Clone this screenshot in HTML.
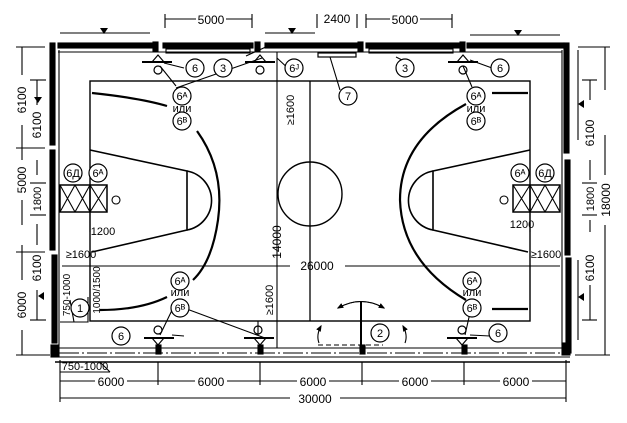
<!DOCTYPE html>
<html><head><meta charset="utf-8"><style>
html,body{margin:0;padding:0;background:#fff;}
svg{display:block;}
text{font-family:"Liberation Sans",sans-serif;fill:#000;}
</style></head><body>
<svg width="627" height="423" viewBox="0 0 627 423" xmlns="http://www.w3.org/2000/svg">
<defs>
<g id="lab"><circle r="9" fill="#fff" stroke="#000" stroke-width="1.2"/></g>
<marker id="ah" viewBox="0 0 10 10" refX="8" refY="5" markerWidth="6" markerHeight="6" orient="auto"><path d="M0 1 L10 5 L0 9z" fill="#000"/></marker>
</defs>
<g stroke="#000" fill="none" stroke-width="1.1">
<rect x="58" y="43" width="95" height="5" fill="#000"/>
<rect x="163" y="43" width="90" height="5" fill="#000"/>
<rect x="265" y="43" width="93" height="5" fill="#000"/>
<rect x="366" y="43" width="95" height="5" fill="#000"/>
<rect x="467" y="43" width="97" height="5" fill="#000"/>
<rect x="153" y="42" width="5" height="9" fill="#000"/>
<rect x="255" y="42" width="5" height="9" fill="#000"/>
<rect x="358" y="42" width="5" height="9" fill="#000"/>
<rect x="460" y="42" width="5" height="9" fill="#000"/>
<line x1="58" y1="52" x2="562" y2="52"/>
<rect x="166" y="49" width="84" height="4"/>
<rect x="369" y="49" width="84" height="4"/>
<rect x="50" y="43" width="5" height="102" fill="#000"/>
<rect x="50" y="150" width="5" height="100" fill="#000"/>
<rect x="52" y="255" width="5" height="88" fill="#000"/>
<rect x="51" y="345" width="8" height="12" fill="#000"/>
<line x1="59" y1="50" x2="59" y2="345"/>
<rect x="564" y="43" width="5" height="110" fill="#000"/>
<rect x="565" y="160" width="5" height="95" fill="#000"/>
<rect x="566" y="258" width="5" height="95" fill="#000"/>
<rect x="562" y="343" width="8" height="12" fill="#000"/>
<line x1="562" y1="50" x2="562" y2="345"/>
<line x1="578" y1="50" x2="578" y2="140"/>
<line x1="578" y1="260" x2="578" y2="340"/>
<line x1="59" y1="348" x2="568" y2="348"/>
<line x1="59" y1="353" x2="568" y2="353" stroke-dasharray="20 3 2 3"/>
<line x1="55" y1="357" x2="570" y2="357"/>
<line x1="55" y1="362" x2="570" y2="362" stroke-width="1.5"/>
<rect x="156" y="345" width="5" height="9" fill="#000"/>
<rect x="258" y="345" width="5" height="9" fill="#000"/>
<rect x="360" y="345" width="5" height="9" fill="#000"/>
<rect x="462" y="345" width="5" height="9" fill="#000"/>
<rect x="90" y="81" width="440" height="240" stroke-width="1.4"/>
<line x1="310" y1="81" x2="310" y2="321" stroke-width="1.3"/>
<line x1="277" y1="52" x2="277" y2="348"/>
<circle cx="310" cy="194" r="32" stroke-width="1.4"/>
<path d="M90 150 L187 171 L187 230 L92 252" stroke-width="1.6"/>
<path d="M187 171 A30 30 0 0 1 187 230" stroke-width="1.6"/>
<path d="M92 93 Q140 98 167 106" stroke-width="2.2"/>
<path d="M197 131 Q225 170 218 220 Q212 262 193 280" stroke-width="2.2"/>
<path d="M167 297 Q140 310 100 310" stroke-width="2.2"/>
<path d="M530 150 L433 171 L433 230 L528 252" stroke-width="1.6"/>
<path d="M433 171 A30 30 0 0 0 433 230" stroke-width="1.6"/>
<path d="M528 93 L492 93" stroke-width="2.2"/>
<path d="M466 104 Q400 140 400 200 Q402 262 466 300" stroke-width="2.2"/>
<path d="M492 309 L528 309" stroke-width="2.2"/>
<rect x="60" y="185" width="47" height="27" stroke-width="1.5"/>
<line x1="90" y1="185" x2="90" y2="212" stroke-width="1.5"/>
<path d="M60 185 L75 212 M75 185 L60 212 M75 185 L90 212 M90 185 L75 212 M90 185 L107 212 M107 185 L90 212"/>
<circle cx="116" cy="200" r="4"/>
<rect x="513" y="185" width="47" height="27" stroke-width="1.5"/>
<line x1="530" y1="185" x2="530" y2="212" stroke-width="1.5"/>
<path d="M513 185 L530 212 M530 185 L513 212 M530 185 L545 212 M545 185 L530 212 M545 185 L560 212 M560 185 L545 212"/>
<circle cx="504" cy="200" r="4"/>
<line x1="90" y1="212" x2="90" y2="232"/>
<line x1="530" y1="212" x2="530" y2="232"/>
<line x1="62" y1="266" x2="290" y2="266"/>
<line x1="345" y1="266" x2="560" y2="266"/>
<g stroke-width="1.2">
<line x1="142" y1="62" x2="172" y2="62" stroke-width="2"/><path d="M152 62 L158 55 L164 62"/><circle cx="158" cy="70" r="4"/>
<line x1="245" y1="62" x2="275" y2="62" stroke-width="2"/><path d="M254 62 L260 55 L266 62"/><circle cx="260" cy="70" r="4"/>
<line x1="448" y1="62" x2="478" y2="62" stroke-width="2"/><path d="M457 62 L463 55 L469 62"/><circle cx="463" cy="70" r="4"/>
<rect x="318" y="53" width="38" height="4"/>
<line x1="144" y1="338" x2="174" y2="338" stroke-width="2"/><path d="M152 338 L158 345 L164 338"/><circle cx="158" cy="330" r="4"/>
<line x1="244" y1="338" x2="274" y2="338" stroke-width="2"/><path d="M254 338 L260 345 L266 338"/><circle cx="258" cy="330" r="4"/>
<line x1="447" y1="338" x2="477" y2="338" stroke-width="2"/><path d="M456 338 L462 345 L468 338"/><circle cx="462" cy="330" r="4"/>
</g>
<line x1="361" y1="302" x2="361" y2="348" stroke-width="2"/>
<path d="M338 308 Q361 295 384 308" marker-end="url(#ah)"/>
<path d="M384 308 Q361 295 338 308" marker-end="url(#ah)"/>
<path d="M318 345 L383 345" stroke-dasharray="5 3"/>
<path d="M319 343 Q316 335 321 326" marker-end="url(#ah)"/>
<path d="M405 343 Q408 335 403 326" marker-end="url(#ah)"/>
<path d="M164 63 L184 68 M262 58 L176 88 M160 66 L176 86 M246 56 L268 46 M277 58 L292 72 M330 57 L340 90 M463 66 L472 87 M470 60 L492 68 M396 57 L402 60"/>
<path d="M172 335 L184 336 M160 335 L175 304 M265 338 L176 305 M470 335 L490 336 M465 335 L472 304"/>
<path d="M258 335 L258 321"/>
<path d="M60 322 L88 322 L88 297"/>
<path d="M70 300 L74 322"/>
<line x1="165" y1="19" x2="196" y2="19"/><line x1="226" y1="19" x2="252" y2="19"/>
<line x1="165" y1="14" x2="165" y2="28"/><line x1="252" y1="14" x2="252" y2="28"/>
<line x1="317" y1="14" x2="317" y2="28"/><line x1="357" y1="14" x2="357" y2="28"/>
<line x1="366" y1="19" x2="390" y2="19"/><line x1="420" y1="19" x2="452" y2="19"/>
<line x1="366" y1="14" x2="366" y2="28"/><line x1="452" y1="14" x2="452" y2="28"/>
<line x1="60" y1="33" x2="150" y2="33"/><line x1="265" y1="33" x2="315" y2="33"/>
<line x1="470" y1="35" x2="560" y2="35"/>
<line x1="60" y1="381" x2="95" y2="381"/><line x1="127" y1="381" x2="195" y2="381"/><line x1="227" y1="381" x2="297" y2="381"/><line x1="329" y1="381" x2="399" y2="381"/><line x1="431" y1="381" x2="500" y2="381"/><line x1="532" y1="381" x2="566" y2="381"/>
<line x1="60" y1="398" x2="290" y2="398"/><line x1="340" y1="398" x2="566" y2="398"/>
<line x1="60" y1="360" x2="60" y2="402"/><line x1="566" y1="360" x2="566" y2="402"/>
<line x1="158" y1="362" x2="158" y2="385"/><line x1="260" y1="362" x2="260" y2="385"/><line x1="362" y1="362" x2="362" y2="385"/><line x1="464" y1="362" x2="464" y2="385"/>
<line x1="60" y1="372" x2="110" y2="372"/><line x1="110" y1="372" x2="100" y2="362"/>
<line x1="22" y1="47" x2="22" y2="75"/><line x1="22" y1="125" x2="22" y2="160"/><line x1="22" y1="200" x2="22" y2="225"/><line x1="22" y1="245" x2="22" y2="280"/><line x1="22" y1="330" x2="22" y2="355"/>
<line x1="16" y1="47" x2="45" y2="47"/><line x1="16" y1="148" x2="45" y2="148"/><line x1="16" y1="252" x2="45" y2="252"/><line x1="16" y1="355" x2="50" y2="355"/>
<line x1="37" y1="80" x2="37" y2="105"/><line x1="37" y1="160" x2="37" y2="175"/><line x1="37" y1="224" x2="37" y2="245"/><line x1="37" y1="290" x2="37" y2="320"/>
<line x1="30" y1="80" x2="46" y2="80"/><line x1="30" y1="183" x2="46" y2="183"/><line x1="30" y1="215" x2="46" y2="215"/><line x1="30" y1="320" x2="46" y2="320"/>
<line x1="605" y1="47" x2="605" y2="90"/><line x1="605" y1="135" x2="605" y2="175"/><line x1="605" y1="225" x2="605" y2="355"/>
<line x1="578" y1="47" x2="610" y2="47"/><line x1="575" y1="355" x2="610" y2="355"/>
<line x1="590" y1="80" x2="590" y2="100"/><line x1="590" y1="160" x2="590" y2="180"/><line x1="590" y1="220" x2="590" y2="232"/><line x1="590" y1="285" x2="590" y2="320"/>
<line x1="582" y1="80" x2="597" y2="80"/><line x1="582" y1="183" x2="597" y2="183"/><line x1="582" y1="215" x2="597" y2="215"/><line x1="582" y1="320" x2="597" y2="320"/>
</g>
<g fill="#000">
<path d="M100 28 h8 l-4 6z"/><path d="M288 28 h8 l-4 6z"/><path d="M514 30 h8 l-4 6z"/>
<path d="M38 296 l6 -4 v8z"/><path d="M578 104 l6 -4 v8z"/><path d="M578 297 l6 -4 v8z"/>
<path d="M34 97 h8 l-4 6z"/>
</g>
<g font-size="12" text-anchor="middle">
<text x="211" y="24">5000</text>
<text x="337" y="23">2400</text>
<text x="405" y="24">5000</text>
<text x="111" y="386">6000</text>
<text x="211" y="386">6000</text>
<text x="313" y="386">6000</text>
<text x="415" y="386">6000</text>
<text x="516" y="386">6000</text>
<text x="315" y="403">30000</text>
<text x="317" y="270">26000</text>
<text x="85" y="370" font-size="11">750-1000</text>
<text font-size="11" x="103" y="235">1200</text>
<text font-size="11" x="522" y="228">1200</text>
<text font-size="11" x="81" y="258">≥1600</text>
<text font-size="11" x="546" y="258">≥1600</text>
</g>
<g font-size="12" text-anchor="middle">
<text transform="translate(26 100) rotate(-90)">6100</text>
<text transform="translate(26 180) rotate(-90)">5000</text>
<text transform="translate(26 305) rotate(-90)">6000</text>
<text transform="translate(41 125) rotate(-90)">6100</text>
<text transform="translate(41 199) rotate(-90)" font-size="11">1800</text>
<text transform="translate(41 268) rotate(-90)">6100</text>
<text transform="translate(594 133) rotate(-90)">6100</text>
<text transform="translate(594 199) rotate(-90)" font-size="11">1800</text>
<text transform="translate(594 268) rotate(-90)">6100</text>
<text transform="translate(610 200) rotate(-90)">18000</text>
<text transform="translate(281 242) rotate(-90)">14000</text>
<text transform="translate(294 110) rotate(-90)" font-size="11">≥1600</text>
<text transform="translate(273 300) rotate(-90)" font-size="11">≥1600</text>
<text transform="translate(70 295) rotate(-90)" font-size="10">750-1000</text>
<text transform="translate(100 290) rotate(-90)" font-size="10">1000/1500</text>
</g>
<g font-size="11" text-anchor="middle">
<use href="#lab" x="195" y="68"/><text x="195" y="72">6</text>
<use href="#lab" x="223" y="68"/><text x="223" y="72">3</text>
<use href="#lab" x="294" y="68"/><text x="294" y="72">6ᴶ</text>
<use href="#lab" x="348" y="96"/><text x="348" y="100">7</text>
<use href="#lab" x="405" y="68"/><text x="405" y="72">3</text>
<use href="#lab" x="500" y="68"/><text x="500" y="72">6</text>
<use href="#lab" x="182" y="96"/><text x="182" y="100">6ᴬ</text>
<text x="182" y="112">или</text>
<use href="#lab" x="182" y="121"/><text x="182" y="125">6ᴮ</text>
<use href="#lab" x="476" y="96"/><text x="476" y="100">6ᴬ</text>
<text x="476" y="112">или</text>
<use href="#lab" x="476" y="121"/><text x="476" y="125">6ᴮ</text>
<use href="#lab" x="180" y="281"/><text x="180" y="285">6ᴬ</text>
<text x="180" y="296">или</text>
<use href="#lab" x="180" y="308"/><text x="180" y="312">6ᴮ</text>
<use href="#lab" x="472" y="281"/><text x="472" y="285">6ᴬ</text>
<text x="472" y="296">или</text>
<use href="#lab" x="472" y="308"/><text x="472" y="312">6ᴮ</text>
<use href="#lab" x="73" y="173"/><text x="73" y="177">6Д</text>
<use href="#lab" x="98" y="173"/><text x="98" y="177">6ᴬ</text>
<use href="#lab" x="520" y="173"/><text x="520" y="177">6ᴬ</text>
<use href="#lab" x="545" y="173"/><text x="545" y="177">6Д</text>
<use href="#lab" x="80" y="308"/><text x="80" y="312">1</text>
<use href="#lab" x="121" y="336"/><text x="121" y="340">6</text>
<use href="#lab" x="380" y="333"/><text x="380" y="337">2</text>
<use href="#lab" x="498" y="333"/><text x="498" y="337">6</text>
</g>
</svg>
</body></html>
